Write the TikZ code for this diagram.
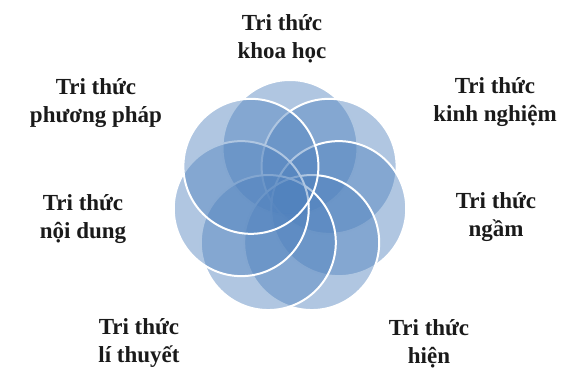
\documentclass[tikz,border=0pt]{standalone}
\usepackage{fontspec}
\setmainfont{Liberation Serif}
\usepackage{xcolor}
\usepackage{tikz}
\usetikzlibrary{
  positioning,
  calc
}
\definecolor{PetalBlue}{HTML}{4F81BD}
\definecolor{LabelInk}{HTML}{1A1A1A}

\tikzset{
  petal/.style={draw=white,line width=2pt,fill=PetalBlue,fill opacity=0.45},
  kindlabel/.style={align=center,text=LabelInk,inner sep=0pt,
                    font=\fontsize{23}{27.5}\selectfont\bfseries}
}

\begin{document}
\begin{tikzpicture}[x=1pt,y=1pt]
        \useasboundingbox (0,0) rectangle (566,370);
        \coordinate (hub) at (290,172.5);
        % seven petals, clockwise from the top
        \draw[petal] ($(hub)+(90:50)$) circle (67.5);
        \draw[petal] ($(hub)+(38.57:50)$) circle (67.5);
        \draw[petal] ($(hub)+(-12.86:50)$) circle (67.5);
        \draw[petal] ($(hub)+(-64.29:50)$) circle (67.5);
        \draw[petal] ($(hub)+(-115.71:50)$) circle (67.5);
        \draw[petal] ($(hub)+(-167.14:50)$) circle (67.5);
        \draw[petal] ($(hub)+(141.43:50)$) circle (67.5);
        % labels
        \node[kindlabel] (khoahoc) at (282,331) {Tri thức\\khoa học};
        \node[kindlabel] (kinhnghiem) at (495,268) {Tri thức\\kinh nghiệm};
        \node[kindlabel] (ngam) at (496,153) {Tri thức\\ngầm};
        \node[kindlabel] (hien) at (429,26) {Tri thức\\hiện};
        \node[kindlabel] (lithuyet) at (139,27) {Tri thức\\lí thuyết};
        \node[kindlabel] (noidung) at (83,151) {Tri thức\\nội dung};
        \node[kindlabel] (phuongphap) at (96,267) {Tri thức\\phương pháp};
      \end{tikzpicture}
\end{document}
